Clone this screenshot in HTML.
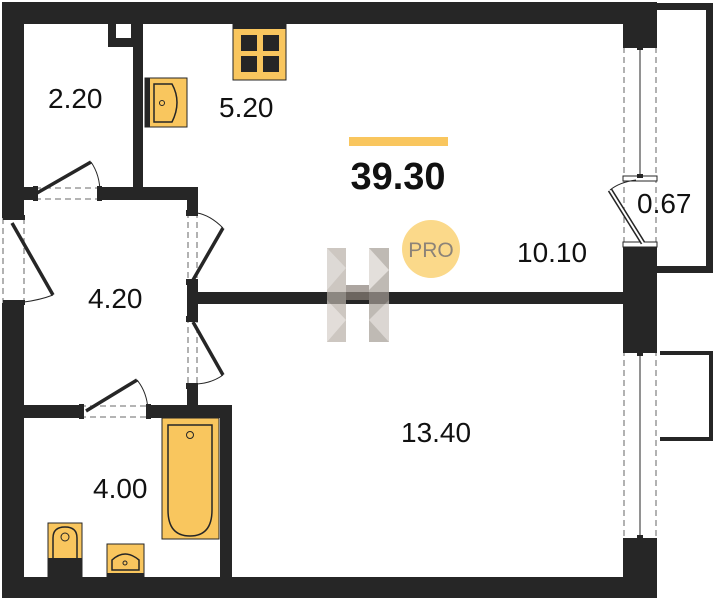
<!DOCTYPE html>
<html><head><meta charset="utf-8"><style>
html,body{margin:0;padding:0;background:#fff;}
svg{display:block;}
text{font-family:"Liberation Sans",sans-serif;fill:#111;}
</style></head><body>
<svg width="715" height="600" viewBox="0 0 715 600" xmlns="http://www.w3.org/2000/svg">
<rect width="715" height="600" fill="#fff"/>
<g fill="#262626">
<rect x="2" y="2" width="655" height="22"/>
<rect x="2" y="2" width="22" height="216"/>
<rect x="2" y="303" width="22" height="295"/>
<rect x="2" y="577" width="655" height="21"/>
<rect x="623" y="2" width="34" height="45"/>
<rect x="623" y="245" width="34" height="105"/>
<rect x="623" y="540" width="34" height="58"/>
<rect x="657" y="3" width="56" height="7"/>
<rect x="706" y="3" width="7" height="270"/>
<rect x="657" y="266" width="56" height="7"/>
<rect x="660" y="351" width="53" height="4"/>
<rect x="709" y="351" width="4" height="90"/>
<rect x="660" y="437" width="53" height="4"/>
<rect x="108" y="24" width="35" height="23"/>
<rect x="133" y="24" width="10" height="176"/>
<rect x="24" y="187" width="11" height="13"/>
<rect x="102" y="187" width="96" height="13"/>
<rect x="187" y="187" width="11" height="25"/>
<rect x="187" y="283" width="11" height="34"/>
<rect x="187" y="385" width="11" height="25"/>
<rect x="198" y="292" width="425" height="12"/>
<rect x="24" y="405" width="56" height="13"/>
<rect x="150" y="405" width="82" height="13"/>
<rect x="220" y="405" width="12" height="193"/>
</g>
<rect x="116" y="24" width="15" height="14" fill="#fff"/>
<g stroke="#888" stroke-width="1.3" stroke-dasharray="6,4" fill="none">
<line x1="3" y1="218" x2="3" y2="303"/><line x1="24" y1="218" x2="24" y2="303"/>
<line x1="35" y1="188" x2="102" y2="188"/><line x1="35" y1="199" x2="102" y2="199"/>
<line x1="188" y1="212" x2="188" y2="283"/><line x1="197" y1="212" x2="197" y2="283"/>
<line x1="188" y1="317" x2="188" y2="385"/><line x1="197" y1="317" x2="197" y2="385"/>
<line x1="80" y1="406" x2="150" y2="406"/><line x1="80" y1="417" x2="150" y2="417"/>
<line x1="624" y1="47" x2="624" y2="245"/><line x1="656" y1="47" x2="656" y2="245"/>
<line x1="624" y1="350" x2="624" y2="540"/><line x1="656" y1="350" x2="656" y2="540"/>
</g>
<g stroke="#262626" stroke-width="1" fill="none">
<line x1="640" y1="47" x2="640" y2="176"/>
<line x1="640" y1="352" x2="640" y2="538"/>
</g>
<g fill="#262626">
<rect x="623" y="44" width="34" height="4"/><rect x="637" y="46" width="6" height="4"/>
<rect x="623" y="176" width="34" height="5" fill="#fff" stroke="#262626" stroke-width="1"/>
<rect x="637" y="174" width="6" height="4"/>
<rect x="623" y="242" width="34" height="5" fill="#fff" stroke="#262626" stroke-width="1"/>
<rect x="623" y="349" width="34" height="4"/><rect x="637" y="352" width="6" height="4"/>
<rect x="623" y="538" width="34" height="4"/><rect x="637" y="535" width="6" height="4"/>
<rect x="33" y="186" width="5" height="15"/><rect x="97" y="186" width="5" height="15"/>
<rect x="3" y="215" width="22" height="5"/><rect x="3" y="300" width="22" height="5"/>
<rect x="186" y="210" width="12" height="6"/><rect x="186" y="279" width="12" height="6"/>
<rect x="186" y="316" width="12" height="6"/><rect x="186" y="383" width="12" height="6"/>
<rect x="79" y="404" width="5" height="15"/><rect x="146" y="404" width="5" height="15"/>
</g>
<g stroke="#262626" stroke-width="3.5" fill="none">
<line x1="37" y1="193" x2="91" y2="162"/>
<line x1="12" y1="223" x2="53" y2="295"/>
<line x1="193" y1="280" x2="223" y2="228"/>
<line x1="193" y1="322" x2="223" y2="375"/>
<line x1="86" y1="411" x2="137" y2="380"/>
</g>
<line x1="643" y1="243" x2="610" y2="190" stroke="#262626" stroke-width="5"/>
<line x1="643" y1="243" x2="610" y2="190" stroke="#fff" stroke-width="2"/>
<g stroke="#262626" stroke-width="1" fill="none">
<path d="M91 162 Q100 175 100 193"/>
<path d="M53 295 Q40 300 24 302"/>
<path d="M223 228 Q210 215 197 213"/>
<path d="M223 375 Q212 383 197 384"/>
<path d="M137 380 Q147 392 148 410"/>
<path d="M610 190 Q620 182 636 180"/>
</g>
<rect x="233" y="24" width="53" height="56" fill="#f9c65e" stroke="#262626" stroke-width="1"/>
<rect x="233" y="24" width="53" height="5" fill="#262626"/>
<g fill="#262626">
<rect x="241" y="35" width="16" height="16"/><rect x="263" y="35" width="16" height="16"/>
<rect x="241" y="56" width="16" height="16"/><rect x="263" y="56" width="16" height="16"/>
</g>
<rect x="145" y="78" width="42" height="49" fill="#f9c65e" stroke="#262626" stroke-width="1"/>
<rect x="145" y="78" width="5" height="49" fill="#262626"/>
<path d="M154 84 H172 Q182 102 172 122 H154 Z" fill="none" stroke="#262626" stroke-width="1.5"/>
<circle cx="162" cy="103" r="2.5" fill="none" stroke="#262626"/>
<rect x="162" y="418" width="57" height="121" fill="#f9c65e" stroke="#262626" stroke-width="1"/>
<path d="M168 425 H212 V510 Q212 536 190 536 Q168 536 168 510 Z" fill="none" stroke="#262626" stroke-width="1.5"/>
<circle cx="190" cy="435" r="3.5" fill="none" stroke="#262626"/>
<rect x="48" y="523" width="34" height="54" fill="#f9c65e" stroke="#262626" stroke-width="1"/>
<rect x="48" y="558" width="34" height="19" fill="#262626"/>
<path d="M53 558 V538 Q53 527 65 527 Q77 527 77 538 V558" fill="none" stroke="#262626" stroke-width="1.5"/>
<circle cx="65" cy="537" r="4" fill="none" stroke="#262626"/>
<rect x="107" y="544" width="37" height="33" fill="#f9c65e" stroke="#262626" stroke-width="1"/>
<rect x="107" y="573" width="37" height="4" fill="#262626"/>
<path d="M112 570 V560 Q125 548 139 560 V570 Z" fill="none" stroke="#262626" stroke-width="1.5"/>
<circle cx="125" cy="563" r="2" fill="none" stroke="#262626"/>
<g opacity="0.7">
<rect x="327" y="248" width="19" height="94" fill="#b8b0a8"/>
<rect x="369" y="248" width="20" height="94" fill="#a59d95"/>
<polygon points="346,285 369,285 369,300 346,300" fill="#8a8078"/>
<polygon points="327,248 346,268 327,290" fill="#d0cac4"/>
<polygon points="369,248 389,270 369,290" fill="#d8d2cc"/>
<polygon points="327,300 346,320 327,342" fill="#d6d0ca"/>
<polygon points="389,300 369,320 389,342" fill="#ccc6c0"/>
</g>
<rect x="349" y="137" width="99" height="9" fill="#f9c65e"/>
<text x="398" y="189" font-size="38" font-weight="bold" text-anchor="middle">39.30</text>
<circle cx="431" cy="249" r="29" fill="#fbd98a"/>
<text x="431" y="257" font-size="21" text-anchor="middle" style="fill:#8c8378">PRO</text>
<g font-size="28">
<text x="48" y="108">2.20</text>
<text x="219" y="117">5.20</text>
<text x="517" y="262">10.10</text>
<text x="637" y="213">0.67</text>
<text x="88" y="308">4.20</text>
<text x="401" y="442">13.40</text>
<text x="93" y="498">4.00</text>
</g>
</svg>
</body></html>
